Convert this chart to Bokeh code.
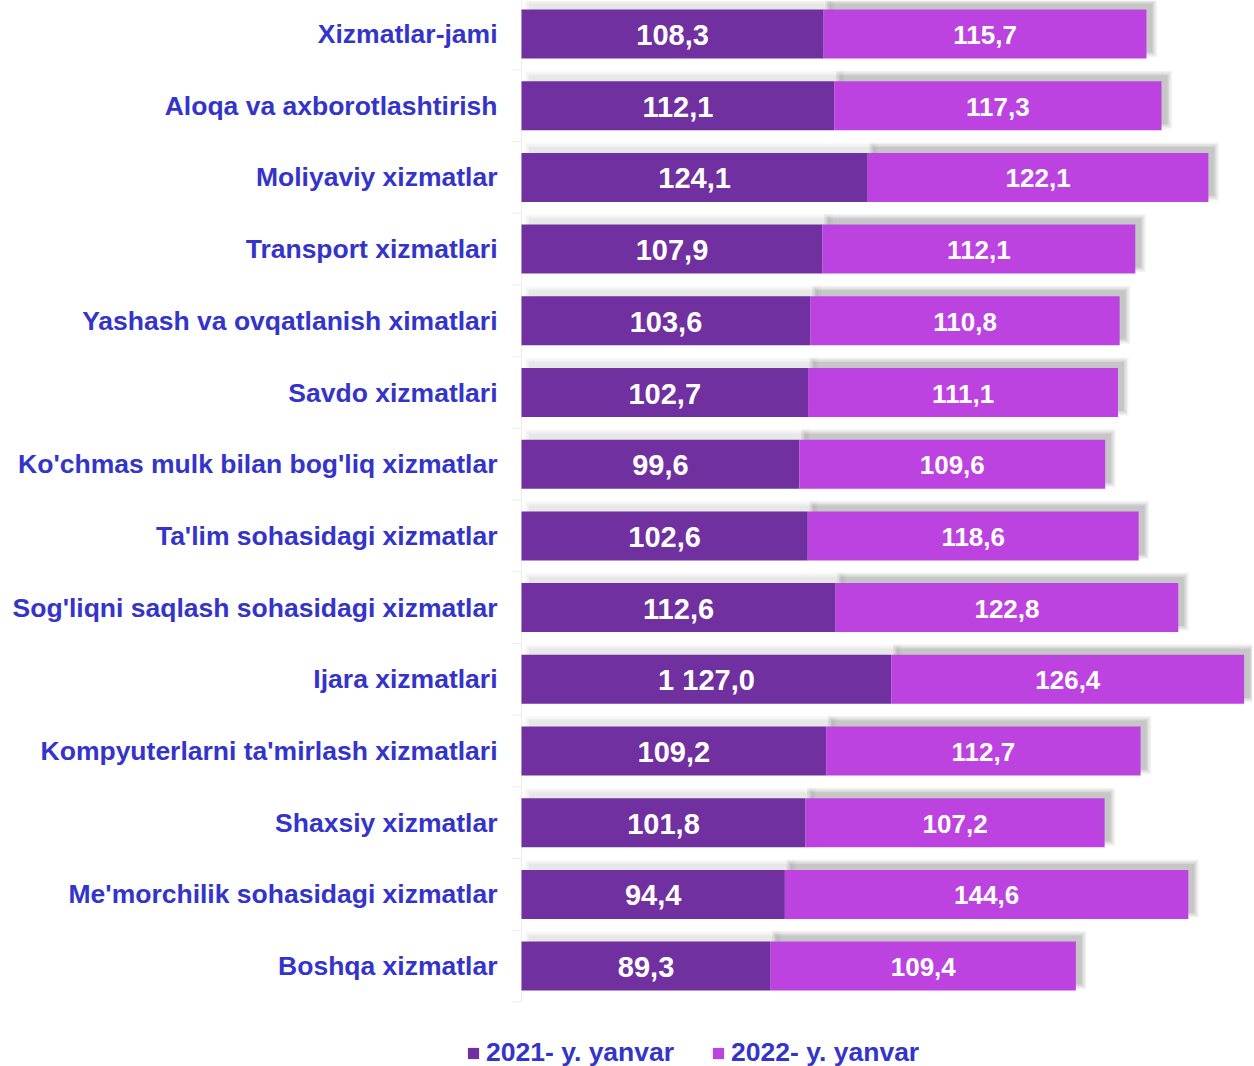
from bokeh.plotting import figure
from bokeh.models import ColumnDataSource, Legend, LegendItem, Range1d
from bokeh.core.properties import value
from bokeh.embed import file_html
from bokeh.resources import INLINE

categories = [
    "Xizmatlar-jami",
    "Aloqa va axborotlashtirish",
    "Moliyaviy xizmatlar",
    "Transport xizmatlari",
    "Yashash va ovqatlanish ximatlari",
    "Savdo xizmatlari",
    "Ko'chmas mulk bilan bog'liq xizmatlar",
    "Ta'lim sohasidagi xizmatlar",
    "Sog'liqni saqlash sohasidagi xizmatlar",
    "Ijara xizmatlari",
    "Kompyuterlarni ta'mirlash xizmatlari",
    "Shaxsiy xizmatlar",
    "Me'morchilik sohasidagi xizmatlar",
    "Boshqa xizmatlar",
]
v2021 = [108.3, 112.1, 124.1, 107.9, 103.6, 102.7, 99.6, 102.6, 112.6, 132.6, 109.2, 101.8, 94.4, 89.3]
v2022 = [115.7, 117.3, 122.1, 112.1, 110.8, 111.1, 109.6, 118.6, 122.8, 126.4, 112.7, 107.2, 144.6, 109.4]
labels_2021 = ["108,3", "112,1", "124,1", "107,9", "103,6", "102,7", "99,6",
               "102,6", "112,6", "1 127,0", "109,2", "101,8", "94,4", "89,3"]
labels_2022 = ["115,7", "117,3", "122,1", "112,1", "110,8", "111,1", "109,6",
               "118,6", "122,8", "126,4", "112,7", "107,2", "144,6", "109,4"]
series = ["2021- y. yanvar", "2022- y. yanvar"]

C2021 = "#7030A0"
C2022 = "#BD43E1"
TXT = "#3434CA"
FONT = "Liberation Sans"

W, H = 1252, 1066
PX = 2.79          # pixels per unit
ZERO = 521         # figure x of value 0
PITCH = 71.7       # pixels per row
ROW0 = 33.5        # figure y of first row centre

n = len(categories)
ys = [n - 1 - i for i in range(n)]
ends = [a + b for a, b in zip(v2021, v2022)]

src = ColumnDataSource(dict(
    y=ys, cat=categories, v1=v2021, v2=v2022, end=ends,
    m1=[a / 2 for a in v2021], m2=[a + b / 2 for a, b in zip(v2021, v2022)],
    l1=labels_2021, l2=labels_2022,
))

x0 = -ZERO / PX
x1 = (W - ZERO) / PX
ytop = (n - 1) + ROW0 / PITCH
ybot = (n - 1) - (H - ROW0) / PITCH

p = figure(width=W, height=H, output_backend="svg", toolbar_location=None,
           x_range=Range1d(x0, x1), y_range=Range1d(ybot, ytop),
           x_axis_location=None, y_axis_location=None,
           min_border=0, min_border_left=0, min_border_right=0,
           min_border_top=0, min_border_bottom=0)
p.outline_line_color = None
p.grid.visible = False
p.background_fill_color = "white"

BH = 49 / PITCH

# faint axis line and ticks
p.segment(x0=[0], y0=[ytop], x1=[0], y1=[-0.5], line_color="#ececec", line_width=1)
p.segment(x0=[-9 / PX] * (n + 1), x1=[0] * (n + 1),
          y0=[k - 0.5 for k in range(n + 1)], y1=[k - 0.5 for k in range(n + 1)],
          line_color="#ececec", line_width=1)

# soft drop shadows (up-right)
dx = 6 / PX
dy = 6 / PITCH
for k, a in enumerate([0.05, 0.05, 0.06, 0.08]):
    grow_x = (3 - k) * 1.5 / PX
    grow_y = (3 - k) * 1.5 / PITCH
    p.hbar(y=[y + dy for y in ys], left=[dx - grow_x + 1.5 / PX] * n,
           right=[v + dx + grow_x for v in v2021],
           height=BH + 2 * grow_y, fill_color="black", fill_alpha=a * 0.4,
           line_color=None)
    p.hbar(y=[y + dy for y in ys], left=[v + dx - grow_x for v in v2021],
           right=[e + dx + grow_x for e in ends],
           height=BH + 2 * grow_y, fill_color="black", fill_alpha=a,
           line_color=None)

r1 = p.hbar(y="y", left=0, right="v1", height=BH, source=src,
            fill_color=C2021, line_color=None)
r2 = p.hbar(y="y", left="v1", right="end", height=BH, source=src,
            fill_color=C2022, line_color=None)

p.text(x="m1", y="y", text="l1", source=src, text_color="white",
       text_font=value(FONT), text_font_style="bold", text_font_size=value("29px"),
       text_align="center", text_baseline="middle", y_offset=1)
p.text(x="m2", y="y", text="l2", source=src, text_color="white",
       text_font=value(FONT), text_font_style="bold", text_font_size=value("26px"),
       text_align="center", text_baseline="middle", y_offset=1)

p.text(x=-24 / PX, y="y", text="cat", source=src, text_color=TXT,
       text_font=value(FONT), text_font_style="bold", text_font_size=value("26.5px"),
       text_align="right", text_baseline="middle")

legend = Legend(items=[LegendItem(label=series[0], renderers=[r1]),
                       LegendItem(label=series[1], renderers=[r2])],
                orientation="horizontal", location=(466, -2),
                glyph_width=14, glyph_height=14, label_standoff=6, spacing=37,
                padding=0, margin=0, border_line_color=None,
                background_fill_alpha=0, label_text_font=FONT,
                label_text_font_style="bold", label_text_font_size="26.5px",
                label_text_color=TXT)
p.add_layout(legend)

open("out.html", "w").write(file_html(p, INLINE))
